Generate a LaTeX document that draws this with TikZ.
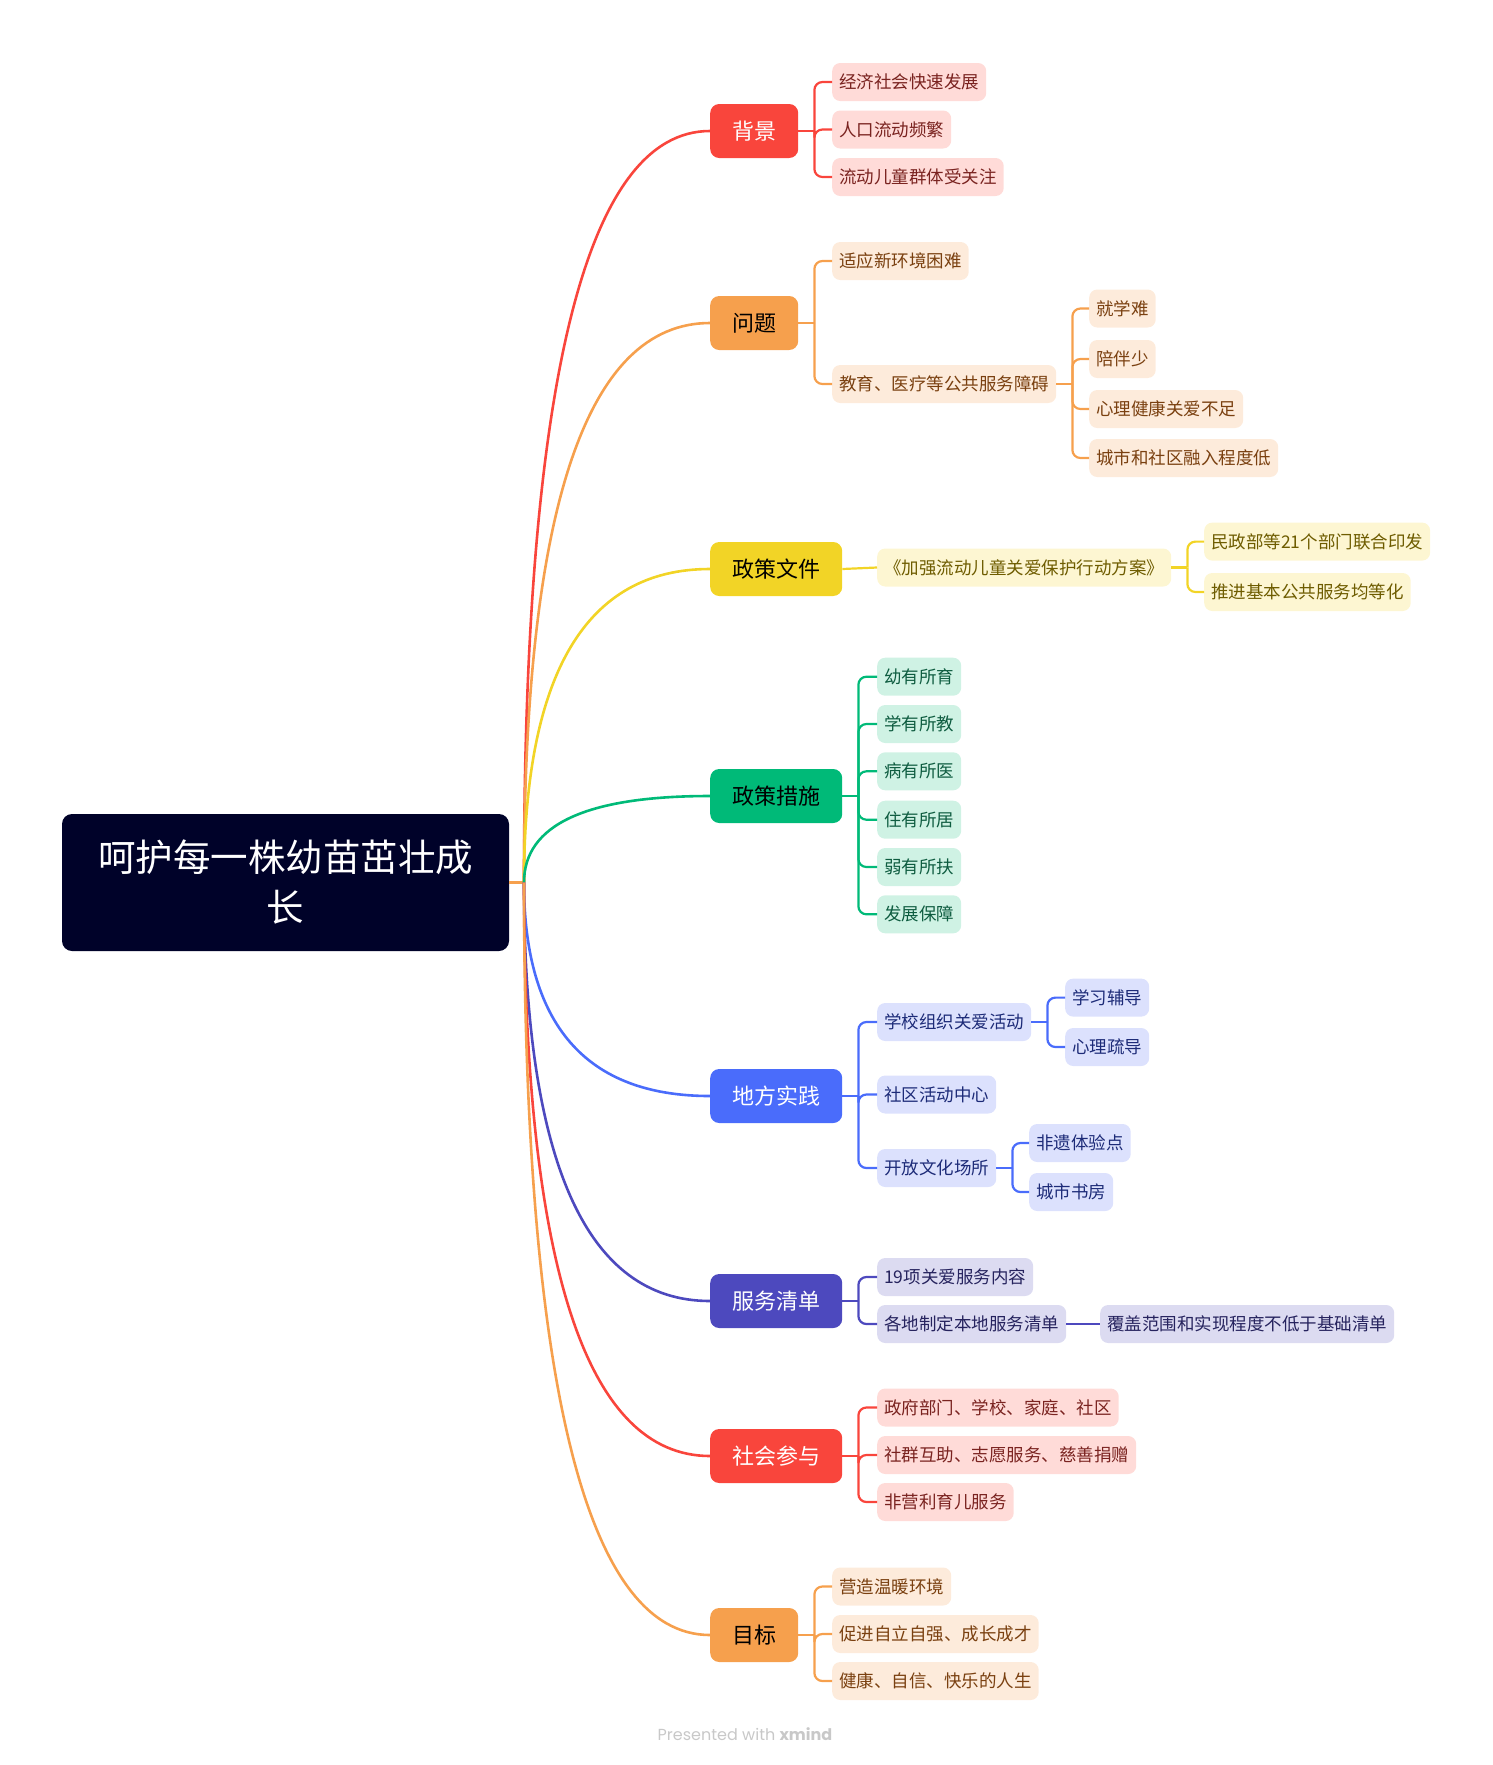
\documentclass[tikz,border=0pt]{standalone}
\usepackage{fontspec}
\setmainfont{Noto Sans CJK SC}
\newfontfamily\footfont{Poppins}
\usetikzlibrary{calc}

\definecolor{rootbg}{HTML}{000229}
\definecolor{cred}{HTML}{F9453C}
\definecolor{corg}{HTML}{F6A04D}
\definecolor{cyel}{HTML}{F2D426}
\definecolor{cgrn}{HTML}{00BA78}
\definecolor{cblu}{HTML}{4A6CFB}
\definecolor{cind}{HTML}{4D49BE}
\definecolor{redbg}{HTML}{FFDBD8}
\definecolor{redtx}{HTML}{7A2320}
\definecolor{orgbg}{HTML}{FDEBDB}
\definecolor{orgtx}{HTML}{7A4010}
\definecolor{yelbg}{HTML}{FDF6D2}
\definecolor{yeltx}{HTML}{6E5C00}
\definecolor{grnbg}{HTML}{CFF2E4}
\definecolor{grntx}{HTML}{0E5C40}
\definecolor{blubg}{HTML}{DCE1FD}
\definecolor{blutx}{HTML}{1D2B78}
\definecolor{indbg}{HTML}{DCDBF1}
\definecolor{indtx}{HTML}{26235E}
\definecolor{footgray}{HTML}{C8C8C8}

\begin{document}
\begin{tikzpicture}[x=1pt, y=-1pt,
    every node/.style={inner sep=0pt},
    root/.style={fill=rootbg, text=white, rounded corners=10pt, minimum width=447pt,
      minimum height=137pt, align=center, font=\fontsize{37.5}{50}\selectfont},
    zhuti/.style={fill=#1, rounded corners=9pt, minimum height=54pt, inner xsep=22pt,
      anchor=west, font=\fontsize{22}{26}\selectfont},
    yezi/.style 2 args={fill=#1, text=#2, rounded corners=8pt, minimum height=38pt,
      inner xsep=7pt, anchor=west, font=\fontsize{17.5}{21}\selectfont},
    quxian/.style={draw=#1, line width=2.6pt},
    xian/.style={draw=#1, line width=2.2pt},
    guai/.style={xian=#1, rounded corners=8pt}
  ]
  \useasboundingbox (0,0) rectangle (1492,1765);

  % centre
  \node[root] (zx) at (285.5,882.5) {呵护每一株幼苗茁壮成\\长};
  \coordinate (jn) at (524,882.5);
  \draw[xian=corg] (zx.east) -- (jn);

  % main topics
  \node[zhuti=cred, text=white] (bj) at (710,131) {背景};
  \node[zhuti=corg] (wt) at (710,323) {问题};
  \node[zhuti=cyel] (wj) at (710,569) {政策文件};
  \node[zhuti=cgrn] (cs) at (710,796) {政策措施};
  \node[zhuti=cblu, text=white] (df) at (710,1096) {地方实践};
  \node[zhuti=cind, text=white] (qd) at (710,1301) {服务清单};
  \node[zhuti=cred, text=white] (sh) at (710,1456) {社会参与};
  \node[zhuti=corg] (mb) at (710,1635) {目标};

  \foreach \b/\c in {bj/cred, wt/corg, wj/cyel, cs/cgrn, df/cblu, qd/cind, sh/cred, mb/corg}
    \draw[quxian=\c] (jn) .. controls ($(jn)!0.667!(jn |- \b.west)$)
      and ($(\b.west)!0.667!(jn |- \b.west)$) .. (\b.west);

  % 背景
  \node[yezi={redbg}{redtx}] (bj1) at (832,82) {经济社会快速发展};
  \node[yezi={redbg}{redtx}] (bj2) at (832,129.5) {人口流动频繁};
  \node[yezi={redbg}{redtx}] (bj3) at (832,177) {流动儿童群体受关注};
  \draw[xian=cred] (bj.east) -- ++(16,0) coordinate (bjx);
  \foreach \n in {1,2,3} \draw[guai=cred] (bjx) |- (bj\n.west);

  % 问题
  \node[yezi={orgbg}{orgtx}] (wt1) at (832,261) {适应新环境困难};
  \node[yezi={orgbg}{orgtx}] (wt2) at (832,384) {教育、医疗等公共服务障碍};
  \node[yezi={orgbg}{orgtx}] (wt21) at (1089,308.5) {就学难};
  \node[yezi={orgbg}{orgtx}] (wt22) at (1089,359) {陪伴少};
  \node[yezi={orgbg}{orgtx}] (wt23) at (1089,409) {心理健康关爱不足};
  \node[yezi={orgbg}{orgtx}] (wt24) at (1089,458) {城市和社区融入程度低};
  \draw[xian=corg] (wt.east) -- ++(16,0) coordinate (wtx);
  \foreach \n in {1,2} \draw[guai=corg] (wtx) |- (wt\n.west);
  \draw[xian=corg] (wt2.east) -- ++(16,0) coordinate (wt2x);
  \foreach \n in {1,...,4} \draw[guai=corg] (wt2x) |- (wt2\n.west);

  % 政策文件
  \node[yezi={yelbg}{yeltx}] (wj1) at (877,567.5) {《加强流动儿童关爱保护行动方案》};
  \node[yezi={yelbg}{yeltx}] (wj11) at (1204,541.6) {民政部等21个部门联合印发};
  \node[yezi={yelbg}{yeltx}] (wj12) at (1204,592) {推进基本公共服务均等化};
  \draw[xian=cyel] (wj.east) -- (wj1.west);
  \draw[xian=cyel] (wj1.east) -- ++(16,0) coordinate (wj1x);
  \foreach \n in {1,2} \draw[guai=cyel] (wj1x) |- (wj1\n.west);

  % 政策措施
  \node[yezi={grnbg}{grntx}] (cs1) at (877,676.7) {幼有所育};
  \node[yezi={grnbg}{grntx}] (cs2) at (877,724) {学有所教};
  \node[yezi={grnbg}{grntx}] (cs3) at (877,771.3) {病有所医};
  \node[yezi={grnbg}{grntx}] (cs4) at (877,819.7) {住有所居};
  \node[yezi={grnbg}{grntx}] (cs5) at (877,867) {弱有所扶};
  \node[yezi={grnbg}{grntx}] (cs6) at (877,914.3) {发展保障};
  \draw[xian=cgrn] (cs.east) -- ++(16,0) coordinate (csx);
  \foreach \n in {1,...,6} \draw[guai=cgrn] (csx) |- (cs\n.west);

  % 地方实践
  \node[yezi={blubg}{blutx}] (df1) at (877,1022) {学校组织关爱活动};
  \node[yezi={blubg}{blutx}] (df2) at (877,1094.5) {社区活动中心};
  \node[yezi={blubg}{blutx}] (df3) at (877,1168) {开放文化场所};
  \node[yezi={blubg}{blutx}] (df11) at (1065,997.6) {学习辅导};
  \node[yezi={blubg}{blutx}] (df12) at (1065,1047) {心理疏导};
  \node[yezi={blubg}{blutx}] (df31) at (1029,1143) {非遗体验点};
  \node[yezi={blubg}{blutx}] (df32) at (1029,1192) {城市书房};
  \draw[xian=cblu] (df.east) -- ++(16,0) coordinate (dfx);
  \foreach \n in {1,2,3} \draw[guai=cblu] (dfx) |- (df\n.west);
  \draw[xian=cblu] (df1.east) -- ++(16,0) coordinate (df1x);
  \foreach \n in {1,2} \draw[guai=cblu] (df1x) |- (df1\n.west);
  \draw[xian=cblu] (df3.east) -- ++(16,0) coordinate (df3x);
  \foreach \n in {1,2} \draw[guai=cblu] (df3x) |- (df3\n.west);

  % 服务清单
  \node[yezi={indbg}{indtx}] (qd1) at (877,1277) {19项关爱服务内容};
  \node[yezi={indbg}{indtx}] (qd2) at (877,1324) {各地制定本地服务清单};
  \node[yezi={indbg}{indtx}] (qd21) at (1100,1324) {覆盖范围和实现程度不低于基础清单};
  \draw[xian=cind] (qd.east) -- ++(16,0) coordinate (qdx);
  \foreach \n in {1,2} \draw[guai=cind] (qdx) |- (qd\n.west);
  \draw[xian=cind] (qd2.east) -- (qd21.west);

  % 社会参与
  \node[yezi={redbg}{redtx}] (sh1) at (877,1407.5) {政府部门、学校、家庭、社区};
  \node[yezi={redbg}{redtx}] (sh2) at (877,1455) {社群互助、志愿服务、慈善捐赠};
  \node[yezi={redbg}{redtx}] (sh3) at (877,1502) {非营利育儿服务};
  \draw[xian=cred] (sh.east) -- ++(16,0) coordinate (shx);
  \foreach \n in {1,2,3} \draw[guai=cred] (shx) |- (sh\n.west);

  % 目标
  \node[yezi={orgbg}{orgtx}] (mb1) at (832,1586.5) {营造温暖环境};
  \node[yezi={orgbg}{orgtx}] (mb2) at (832,1634) {促进自立自强、成长成才};
  \node[yezi={orgbg}{orgtx}] (mb3) at (832,1681) {健康、自信、快乐的人生};
  \draw[xian=corg] (mb.east) -- ++(16,0) coordinate (mbx);
  \foreach \n in {1,2,3} \draw[guai=corg] (mbx) |- (mb\n.west);

  \node[font=\footfont\fontsize{16}{18}\selectfont, text=footgray] (ft) at (745,1734)
    {Presented with \textbf{xmind}};
\end{tikzpicture}
\end{document}
